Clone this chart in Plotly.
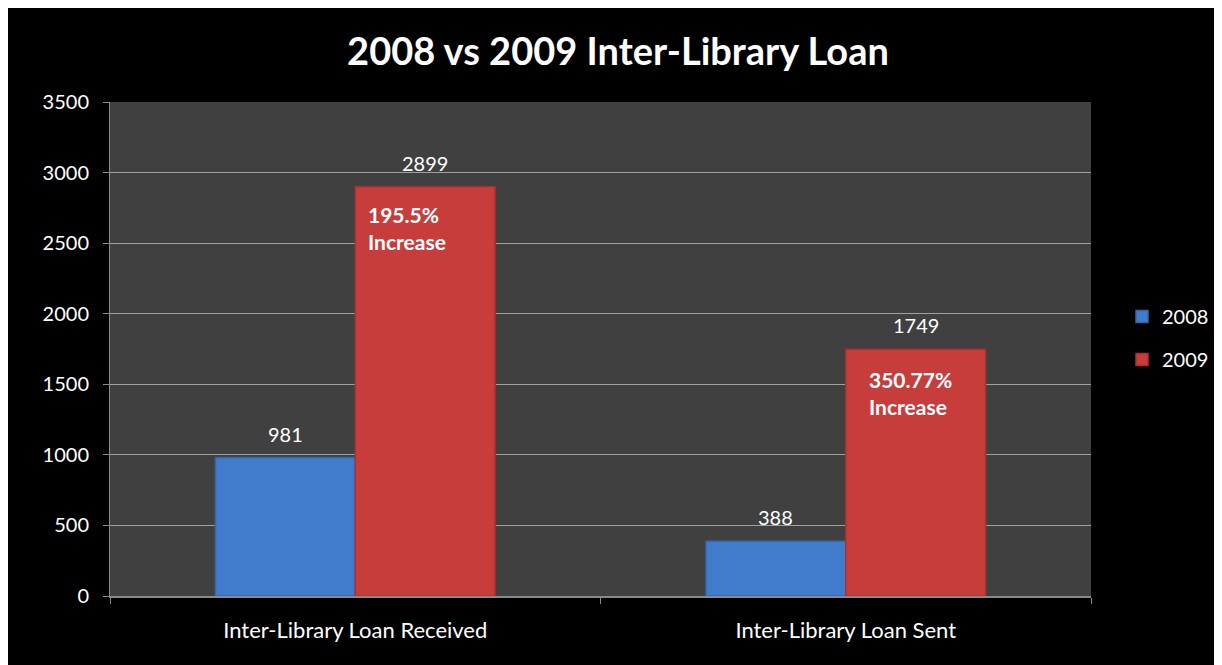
import plotly.graph_objects as go

categories = ["Inter-Library Loan Received", "Inter-Library Loan Sent"]
series_names = ["2008", "2009"]
values_2008 = [981, 388]
values_2009 = [2899, 1749]
increase_labels = ["195.5%<br>Increase", "350.77%<br>Increase"]
y_ticks = [0, 500, 1000, 1500, 2000, 2500, 3000, 3500]

FONT = "Lato"
BARGAP = 0.43
half = (1 - BARGAP) / 4  # offset of each bar centre from category centre

fig = go.Figure()
fig.add_trace(go.Bar(
    x=categories, y=values_2008, name=series_names[0],
    marker=dict(color="#417bcc", line=dict(color="#3665ab", width=1.5)),
    legendgroup="a",
))
fig.add_trace(go.Bar(
    x=categories, y=values_2009, name=series_names[1],
    marker=dict(color="#c63d3c", line=dict(color="#a53231", width=1.5)),
    legendgroup="b",
))

annotations = []
for i, (v8, v9) in enumerate(zip(values_2008, values_2009)):
    annotations.append(dict(x=i - half, y=v8, xref="x", yref="y", text=str(v8),
                            showarrow=False, yshift=24, yanchor="middle",
                            font=dict(family=FONT, size=20, color="white")))
    annotations.append(dict(x=i + half, y=v9, xref="x", yref="y", text=str(v9),
                            showarrow=False, yshift=24, yanchor="middle",
                            font=dict(family=FONT, size=20, color="white")))

inner_shift = [(11, -13), (21, -16)]
for i, v9 in enumerate(values_2009):
    dx, dy = inner_shift[i]
    annotations.append(dict(x=i, y=v9, xref="x", yref="y", text=increase_labels[i],
                            showarrow=False, xanchor="left", yanchor="top", align="left",
                            xshift=dx, yshift=dy,
                            font=dict(family=FONT, size=21, color="white", weight="bold")))

W, H = 1214, 657
fig.update_layout(
    width=W, height=H,
    margin=dict(l=102, r=131, t=94, b=69),
    paper_bgcolor="black", plot_bgcolor="#404040",
    barmode="group", bargap=BARGAP, bargroupgap=0,
    title=dict(text="<b>2008 vs 2009 Inter-Library Loan</b>", x=610 / W, xanchor="center",
               y=1 - 44 / H, yanchor="middle",
               font=dict(family=FONT, size=38, color="white")),
    font=dict(family=FONT, color="white"),
    legend=dict(xref="container", yref="container", x=1114 / W, y=1 - 330 / H,
                xanchor="left", yanchor="middle",
                font=dict(family=FONT, size=20, color="white"),
                traceorder="grouped", tracegroupgap=14, bgcolor="rgba(0,0,0,0)"),
    annotations=annotations,
    showlegend=True,
)
fig.update_yaxes(range=[0, 3500], tickvals=y_ticks, showgrid=True, gridcolor="#a0a0a0", gridwidth=1,
                 showline=True, linecolor="#8a8a8a", linewidth=1, ticks="outside", ticklen=6,
                 tickcolor="#8a8a8a", tickfont=dict(family=FONT, size=20, color="white"),
                 ticklabelstandoff=10, zeroline=False)
fig.update_xaxes(showline=True, linecolor="#8a8a8a", linewidth=1.5, ticks="outside", ticklen=6,
                 tickcolor="#8a8a8a", tickson="boundaries", showgrid=False,
                 tickfont=dict(family=FONT, size=22, color="white"), ticklabelstandoff=14)

fig.write_html("out.html")
